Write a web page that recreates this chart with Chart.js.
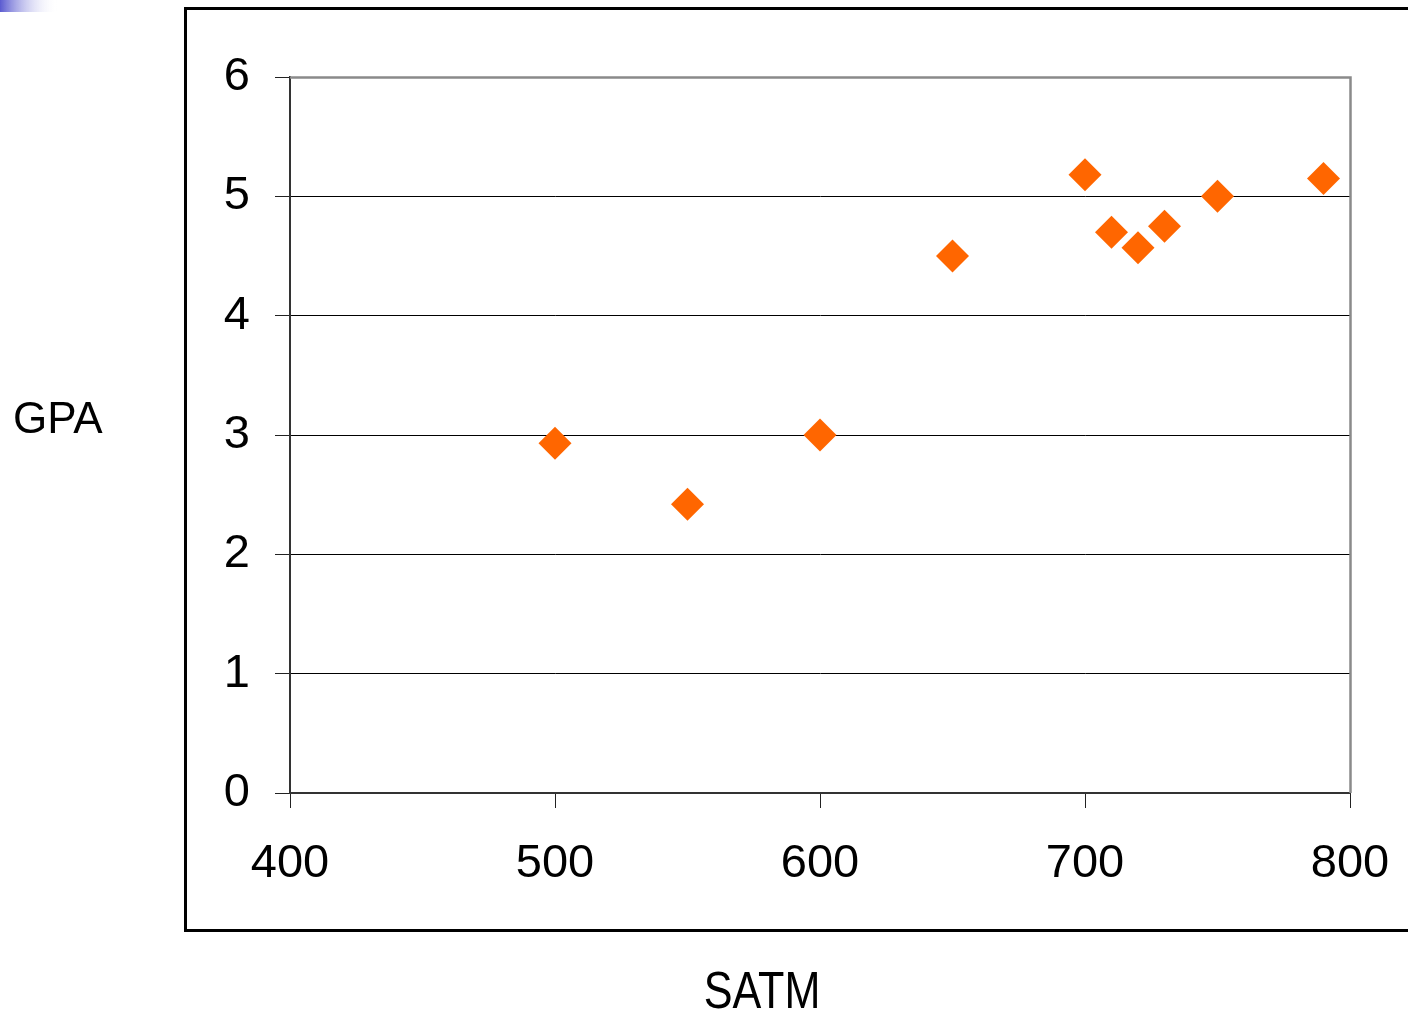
<!DOCTYPE html>
<html>
<head>
<meta charset="utf-8">
<title>GPA vs SATM</title>
<script src="https://cdn.jsdelivr.net/npm/chart.js@4.4.1/dist/chart.umd.min.js"></script>
<style>
  html, body { margin: 0; padding: 0; background: #ffffff; }
  canvas { display: block; }
</style>
</head>
<body>
<canvas id="chart" width="1408" height="1015"></canvas>
<script>
// SAT math scores and grade point averages of the students
const satm = [500, 550, 600, 650, 700, 710, 720, 730, 750, 790];
const gpa  = [2.93, 2.42, 3.0, 4.5, 5.18, 4.7, 4.57, 4.75, 5.0, 5.15];

// Axis ranges and titles
const xTicks = [400, 500, 600, 700, 800];
const yTicks = [0, 1, 2, 3, 4, 5, 6];
const xTitle = 'SATM';
const yTitle = 'GPA';

const FONT = '"Liberation Sans", Arial, sans-serif';

// Outer frame, slide accent and the two free-standing axis titles
const decorations = {
  id: 'decorations',
  beforeDraw(chart) {
    const ctx = chart.ctx;
    ctx.save();
    const g = ctx.createLinearGradient(0, 0, 58, 0);
    g.addColorStop(0, '#5b5bd0');
    g.addColorStop(1, 'rgba(255,255,255,0)');
    ctx.fillStyle = g;
    ctx.fillRect(0, 0, 58, 12);
    ctx.restore();
  },
  beforeDatasetsDraw(chart) {
    const {ctx, chartArea: a} = chart;
    ctx.save();
    ctx.strokeStyle = '#8a8a8a';
    ctx.lineWidth = 2.5;
    ctx.beginPath();
    ctx.moveTo(a.left, a.top + 0.5);
    ctx.lineTo(a.right + 0.5, a.top + 0.5);
    ctx.lineTo(a.right + 0.5, a.bottom);
    ctx.stroke();
    ctx.restore();
  },
  afterDraw(chart) {
    const ctx = chart.ctx;
    ctx.save();
    ctx.strokeStyle = '#000000';
    ctx.lineWidth = 3;
    ctx.strokeRect(185.5, 8.5, 1400, 922);
    ctx.fillStyle = '#000000';
    ctx.textBaseline = 'middle';
    ctx.textAlign = 'left';
    ctx.font = '44px ' + FONT;
    ctx.fillText(yTitle, 13, 421);
    // the x title uses a slightly condensed face
    ctx.textAlign = 'center';
    ctx.font = '52px ' + FONT;
    ctx.translate(762, 994);
    ctx.scale(0.83, 1);
    ctx.fillText(xTitle, 0, 0);
    ctx.restore();
  }
};

new Chart(document.getElementById('chart'), {
  type: 'scatter',
  data: {
    datasets: [{
      label: 'GPA',
      data: satm.map((s, i) => ({x: s, y: gpa[i]})),
      pointStyle: 'rectRot',
      pointRadius: 16.5,
      pointHoverRadius: 16.5,
      backgroundColor: '#ff6600',
      borderColor: '#ff6600',
      borderWidth: 0
    }]
  },
  options: {
    responsive: false,
    animation: false,
    events: [],
    layout: { padding: { top: 77, right: 58, bottom: 0, left: 0 } },
    plugins: {
      legend: { display: false },
      tooltip: { enabled: false },
      title: { display: false }
    },
    scales: {
      x: {
        type: 'linear',
        min: xTicks[0],
        max: xTicks[xTicks.length - 1],
        afterBuildTicks(scale) { scale.ticks = xTicks.map(v => ({value: v})); },
        afterFit(scale) {
          scale.height = 1015 - 793;
          // end labels fit inside the fixed side margins
          scale.paddingLeft = 0;
          scale.paddingRight = 0;
        },
        grid: {
          drawOnChartArea: false,
          drawTicks: true,
          tickLength: 15,
          tickColor: '#222222',
          tickWidth: 1
        },
        border: { display: true, color: '#333333', width: 2 },
        ticks: {
          color: '#000000',
          padding: 28,
          maxRotation: 0,
          autoSkip: false,
          font: { family: FONT, size: 47 }
        }
      },
      y: {
        type: 'linear',
        min: yTicks[0],
        max: yTicks[yTicks.length - 1],
        afterBuildTicks(scale) { scale.ticks = yTicks.map(v => ({value: v})); },
        afterFit(scale) {
          scale.width = 290;
          scale.paddingTop = 0;
          scale.paddingBottom = 0;
        },
        grid: {
          color: '#000000',
          lineWidth: 1,
          drawTicks: true,
          tickLength: 15,
          tickColor: '#222222',
          tickWidth: 1
        },
        border: { display: true, color: '#333333', width: 2 },
        ticks: {
          color: '#000000',
          padding: 25,
          autoSkip: false,
          font: { family: FONT, size: 47 }
        }
      }
    }
  },
  plugins: [decorations]
});
</script>
</body>
</html>
